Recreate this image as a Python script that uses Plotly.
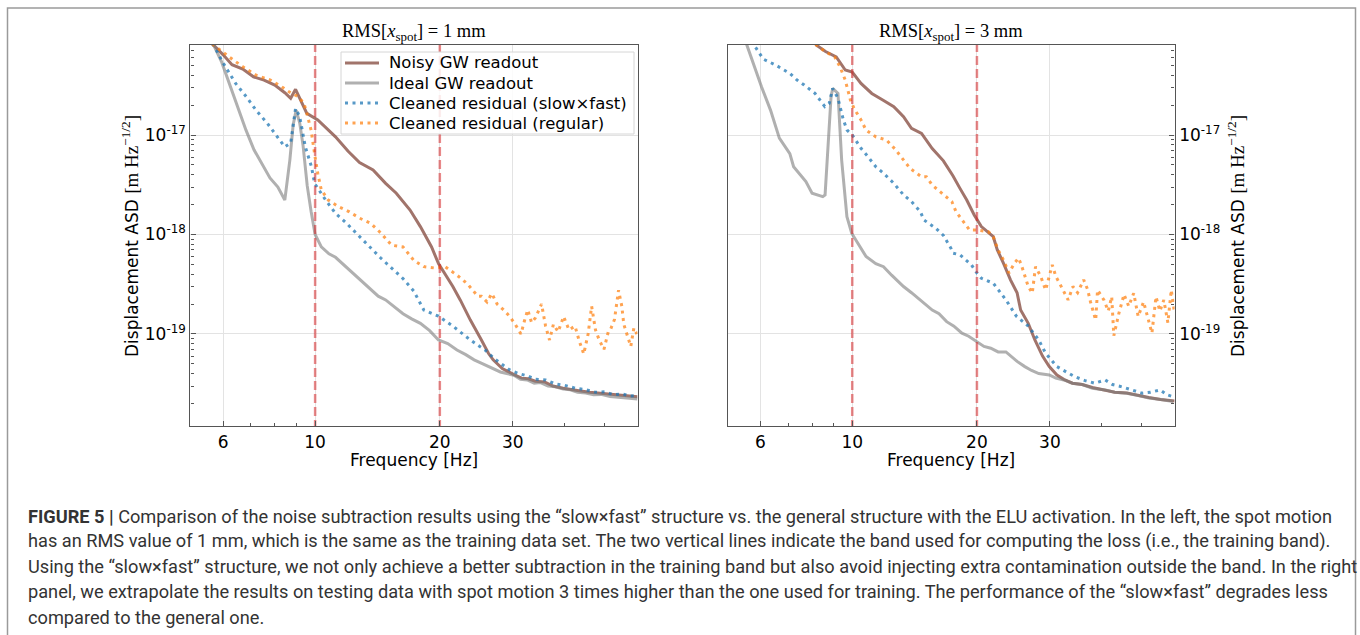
import plotly.graph_objects as go

# ---------------- data ----------------
# Left panel: RMS[x_spot] = 1 mm
f_noisy_1 = [5.3, 5.69, 6.0, 6.3, 6.69, 7.1, 7.53, 7.99, 8.45, 8.73, 8.97, 9.18, 9.55, 10.15, 10.76, 11.2, 12.0, 12.8, 13.8, 14.8, 15.7, 16.95, 17.95, 19.1, 19.85, 21.5, 22.4, 23.7, 25.2, 26.2, 26.9, 28.3, 30.2, 31.5, 32.7, 34.0, 35.8, 37.5, 39.7, 41.5, 43.7, 46.0, 48.5, 51.0, 53.6, 56.5, 60.0]
asd_noisy_1 = [1.0e-16, 8.0e-17, 6.4e-17, 5.1e-17, 4.6e-17, 3.85e-17, 3.57e-17, 3.18e-17, 2.66e-17, 2.34e-17, 2.88e-17, 2.34e-17, 1.65e-17, 1.42e-17, 1.12e-17, 9.6e-18, 6.9e-18, 5.3e-18, 4.45e-18, 3.27e-18, 2.6e-18, 1.76e-18, 1.2e-18, 7.5e-19, 5.1e-19, 3.0e-19, 2.2e-19, 1.38e-19, 8.7e-20, 6.4e-20, 5.5e-20, 4.5e-20, 3.9e-20, 3.6e-20, 3.55e-20, 3.35e-20, 3.3e-20, 3.0e-20, 2.85e-20, 2.75e-20, 2.67e-20, 2.6e-20, 2.54e-20, 2.5e-20, 2.44e-20, 2.4e-20, 2.34e-20]

f_ideal_1 = [5.3, 5.69, 5.95, 6.23, 6.51, 6.81, 7.12, 7.45, 7.78, 8.13, 8.45, 8.69, 8.85, 9.0, 9.18, 9.35, 9.57, 9.78, 10.0, 10.35, 10.8, 11.2, 11.7, 12.1, 12.6, 13.1, 13.6, 14.2, 14.8, 15.5, 16.3, 17.1, 17.95, 18.9, 19.85, 20.9, 22.0, 23.1, 24.2, 25.4, 26.7, 28.0, 29.0, 30.2, 31.3, 32.5, 33.8, 35.0, 36.5, 38.0, 39.7, 41.3, 43.0, 45.0, 47.0, 49.0, 51.5, 54.0, 57.0, 60.0]
asd_ideal_1 = [1.3e-16, 8.0e-17, 5.4e-17, 3.2e-17, 1.87e-17, 1.12e-17, 7.1e-18, 5.0e-18, 3.7e-18, 3.0e-18, 2.22e-18, 5.6e-18, 1.26e-17, 1.78e-17, 1.32e-17, 7.9e-18, 3.1e-18, 1.7e-18, 1.0e-18, 7.5e-19, 6.4e-19, 5.9e-19, 5.0e-19, 4.4e-19, 3.8e-19, 3.24e-19, 2.85e-19, 2.4e-19, 2.2e-19, 1.9e-19, 1.6e-19, 1.42e-19, 1.28e-19, 1.08e-19, 8.7e-20, 8.0e-20, 6.9e-20, 6.2e-20, 5.5e-20, 5.0e-20, 4.5e-20, 4.15e-20, 4.0e-20, 3.85e-20, 3.5e-20, 3.45e-20, 3.2e-20, 3.25e-20, 3.0e-20, 2.95e-20, 2.8e-20, 2.75e-20, 2.6e-20, 2.55e-20, 2.45e-20, 2.47e-20, 2.35e-20, 2.3e-20, 2.28e-20, 2.22e-20]

f_sf_1 = [5.3, 5.69, 6.0, 6.43, 6.82, 7.2, 7.67, 8.13, 8.45, 8.73, 8.97, 9.18, 9.47, 9.8, 9.97, 10.6, 11.2, 11.9, 12.8, 13.6, 14.4, 15.3, 16.3, 17.3, 18.3, 19.85, 21.5, 23.7, 25.7, 27.3, 29.5, 31.0, 32.5, 34.0, 36.0, 38.0, 40.0, 42.5, 45.0, 47.5, 50.0, 52.5, 55.0, 57.5, 60.0]
asd_sf_1 = [1.3e-16, 8.0e-17, 5.3e-17, 3.3e-17, 2.43e-17, 1.78e-17, 1.31e-17, 9.6e-18, 7.6e-18, 8.3e-18, 1.85e-17, 1.53e-17, 7.6e-18, 4.8e-18, 3.27e-18, 2.22e-18, 1.63e-18, 1.3e-18, 9.5e-19, 7.5e-19, 5.8e-19, 4.6e-19, 3.6e-19, 2.7e-19, 1.74e-19, 1.51e-19, 1.2e-19, 8.7e-20, 6.9e-20, 5.5e-20, 4.35e-20, 4.0e-20, 3.8e-20, 3.5e-20, 3.45e-20, 3.15e-20, 3.05e-20, 2.85e-20, 2.75e-20, 2.6e-20, 2.62e-20, 2.45e-20, 2.5e-20, 2.38e-20, 2.4e-20]

f_reg_1 = [5.3, 5.69, 6.2, 6.69, 7.2, 7.8, 8.3, 8.65, 9.1, 9.4, 9.55, 9.78, 9.97, 10.15, 10.35, 10.76, 11.4, 12.1, 12.8, 13.6, 14.4, 15.3, 16.3, 17.3, 18.3, 19.5, 20.6, 22.0, 23.3, 24.0, 24.7, 25.2, 26.0, 26.7, 27.5, 28.5, 29.5, 30.4, 31.4, 32.0, 32.6, 33.3, 34.0, 35.2, 36.0, 36.8, 37.6, 38.6, 39.8, 41.0, 42.4, 43.4, 44.5, 45.6, 46.5, 47.5, 48.5, 49.8, 51.0, 51.6, 52.8, 54.0, 55.0, 55.6, 56.7, 57.8, 58.8, 59.8]
asd_reg_1 = [1.3e-16, 8.0e-17, 6.1e-17, 4.86e-17, 4.0e-17, 3.57e-17, 3.06e-17, 2.72e-17, 2.43e-17, 2.08e-17, 1.65e-17, 1.12e-17, 6.5e-18, 4.1e-18, 2.8e-18, 2.22e-18, 1.9e-18, 1.69e-18, 1.46e-18, 1.3e-18, 1.04e-18, 7.8e-19, 7.5e-19, 5.5e-19, 4.75e-19, 4.6e-19, 4.75e-19, 3.9e-19, 3.2e-19, 2.8e-19, 2.4e-19, 2.4e-19, 2.1e-19, 2.55e-19, 2.0e-19, 1.75e-19, 1.5e-19, 1.25e-19, 1.0e-19, 1.35e-19, 1.75e-19, 1.3e-19, 1.45e-19, 2.0e-19, 1.2e-19, 8.7e-20, 1.25e-19, 1.05e-19, 1.5e-19, 1.1e-19, 1.2e-19, 8.5e-20, 6.3e-20, 1.0e-19, 1.9e-19, 1.1e-19, 8.7e-20, 7.0e-20, 1.05e-19, 1.1e-19, 1.4e-19, 2.75e-19, 1.9e-19, 1.25e-19, 9.5e-20, 7.5e-20, 1.15e-19, 1.0e-19]

# Right panel: RMS[x_spot] = 3 mm
f_noisy_3 = [7.8, 8.2, 8.62, 9.15, 9.62, 10.0, 10.5, 11.15, 11.85, 12.6, 13.3, 13.9, 14.7, 15.6, 16.6, 17.5, 18.2, 18.9, 19.7, 20.5, 21.9, 22.4, 23.2, 24.1, 25.0, 25.5, 26.6, 27.6, 28.8, 29.9, 31.2, 32.4, 34.0, 35.9, 38.0, 40.8, 43.0, 46.0, 49.0, 52.0, 55.5, 60.0]
asd_noisy_3 = [1.1e-16, 8.0e-17, 6.9e-17, 6.1e-17, 4.5e-17, 4.3e-17, 3.3e-17, 2.62e-17, 2.25e-17, 1.93e-17, 1.53e-17, 1.17e-17, 1.04e-17, 7.3e-18, 5.5e-18, 3.9e-18, 2.91e-18, 2.22e-18, 1.57e-18, 1.2e-18, 9.5e-19, 7.0e-19, 5.1e-19, 3.5e-19, 2.6e-19, 1.74e-19, 1.28e-19, 8.7e-20, 6.0e-20, 4.7e-20, 3.87e-20, 3.5e-20, 3.2e-20, 3.1e-20, 2.9e-20, 2.75e-20, 2.6e-20, 2.55e-20, 2.4e-20, 2.3e-20, 2.2e-20, 2.12e-20]

f_ideal_3 = [5.3, 5.57, 6.04, 6.35, 6.67, 7.07, 7.22, 7.73, 8.0, 8.49, 8.6, 8.89, 8.97, 9.24, 9.43, 9.71, 9.97, 10.3, 10.8, 11.4, 11.9, 12.45, 12.8, 13.3, 13.9, 14.5, 15.6, 16.2, 16.9, 17.6, 18.4, 19.1, 19.9, 20.8, 21.6, 22.5, 23.5, 24.0, 25.0, 26.1, 27.1, 28.2, 29.9, 31.0, 32.4, 34.0, 35.9, 38.0, 40.8, 43.0, 46.0, 49.0, 52.0, 55.5, 59.5]
asd_ideal_3 = [1.5e-16, 8.0e-17, 3.06e-17, 1.78e-17, 9.3e-18, 6.5e-18, 4.8e-18, 3.4e-18, 2.6e-18, 2.4e-18, 2.5e-18, 2.43e-17, 2.94e-17, 2.62e-17, 5.6e-18, 1.51e-18, 1.03e-18, 8.2e-19, 6.0e-19, 5.1e-19, 4.75e-19, 3.9e-19, 3.5e-19, 3.0e-19, 2.6e-19, 2.25e-19, 1.74e-19, 1.6e-19, 1.33e-19, 1.2e-19, 1.02e-19, 9.5e-20, 8.4e-20, 7.5e-20, 7.2e-20, 6.6e-20, 6.6e-20, 6.1e-20, 5.3e-20, 4.7e-20, 4.3e-20, 4.0e-20, 3.87e-20, 3.6e-20, 3.45e-20, 3.2e-20, 3.1e-20, 2.85e-20, 2.74e-20, 2.6e-20, 2.54e-20, 2.4e-20, 2.27e-20, 2.2e-20, 2.1e-20]

f_sf_3 = [5.5, 5.8, 6.1, 6.53, 7.07, 7.36, 7.66, 8.13, 8.59, 8.8, 8.97, 9.24, 9.52, 9.72, 10.0, 10.5, 10.9, 11.4, 11.9, 12.6, 13.3, 13.9, 14.6, 14.9, 15.9, 16.6, 17.3, 17.5, 18.2, 19.4, 20.0, 20.5, 21.9, 23.0, 23.5, 24.9, 26.6, 28.2, 29.3, 31.2, 33.0, 34.4, 36.5, 38.5, 40.8, 42.5, 44.4, 47.0, 50.1, 52.5, 55.4, 57.5, 59.5]
asd_sf_3 = [1.2e-16, 8.0e-17, 5.8e-17, 5.06e-17, 4.17e-17, 3.57e-17, 3.18e-17, 2.62e-17, 1.93e-17, 2.08e-17, 2.94e-17, 2.34e-17, 1.42e-17, 1.12e-17, 1.0e-17, 7.35e-18, 6.1e-18, 4.8e-18, 4.13e-18, 3.27e-18, 2.5e-18, 2.14e-18, 1.7e-18, 1.4e-18, 1.16e-18, 9.8e-19, 7.3e-19, 6.5e-19, 6.25e-19, 4.95e-19, 4.1e-19, 3.63e-19, 3.24e-19, 2.5e-19, 2.2e-19, 1.51e-19, 1.2e-19, 8.7e-20, 6.4e-20, 4.7e-20, 4.1e-20, 3.73e-20, 3.4e-20, 3.2e-20, 3.45e-20, 3.1e-20, 2.97e-20, 2.75e-20, 2.54e-20, 2.6e-20, 2.74e-20, 2.45e-20, 2.34e-20]

f_reg_3 = [7.8, 8.2, 8.62, 9.07, 9.34, 9.62, 9.9, 10.1, 10.5, 10.8, 11.4, 12.1, 12.7, 13.3, 13.8, 14.7, 15.1, 15.6, 16.8, 17.4, 17.8, 18.5, 19.2, 20.0, 21.3, 21.9, 22.5, 23.2, 23.9, 24.6, 25.2, 25.6, 26.1, 26.6, 27.2, 27.7, 28.5, 29.3, 30.4, 31.0, 31.7, 32.3, 33.2, 34.1, 35.0, 36.2, 37.0, 37.6, 38.7, 39.1, 40.5, 41.5, 42.3, 42.8, 44.0, 45.3, 46.5, 47.8, 49.0, 50.5, 51.7, 52.9, 54.1, 55.3, 56.5, 57.8, 58.9, 60.0]
asd_reg_3 = [1.1e-16, 8.0e-17, 6.87e-17, 6.1e-17, 4.86e-17, 3.57e-17, 2.25e-17, 1.85e-17, 1.42e-17, 1.12e-17, 9.6e-18, 8.9e-18, 7.2e-18, 5.6e-18, 4.6e-18, 3.81e-18, 3.81e-18, 3.14e-18, 2.4e-18, 2.14e-18, 1.7e-18, 1.35e-18, 1.11e-18, 1.11e-18, 1.07e-18, 9.5e-19, 7.0e-19, 5.5e-19, 4.1e-19, 5.1e-19, 5.8e-19, 4.95e-19, 3.8e-19, 3.0e-19, 2.57e-19, 4.75e-19, 3.8e-19, 2.77e-19, 4.95e-19, 3.8e-19, 3.2e-19, 2.77e-19, 2.2e-19, 3.0e-19, 2.6e-19, 3.5e-19, 2.8e-19, 2.1e-19, 1.38e-19, 2.77e-19, 2.2e-19, 1.7e-19, 2.37e-19, 9.6e-20, 1.6e-19, 2.5e-19, 1.9e-19, 2.57e-19, 1.5e-19, 2.1e-19, 1.45e-19, 1.02e-19, 2.37e-19, 1.7e-19, 2.2e-19, 1.3e-19, 2.77e-19, 1.6e-19]

band_edges = [10, 20]
series_names = ["Noisy GW readout", "Ideal GW readout",
                "Cleaned residual (slow\u00d7fast)", "Cleaned residual (regular)"]
panel_titles = ["RMS[<i>x</i><sub>spot</sub>] = 1 mm", "RMS[<i>x</i><sub>spot</sub>] = 3 mm"]
x_tickvals = [6, 10, 20, 30]
x_ticktext = ["6", "10", "20", "30"]
x_minor = [7, 8, 9, 40, 50]
y_tickvals = [1e-19, 1e-18, 1e-17]
y_ticktext = ["10<sup>-19</sup>", "10<sup>-18</sup>", "10<sup>-17</sup>"]
caption_lines = [
    "<b>FIGURE 5 |</b> Comparison of the noise subtraction results using the \u201cslow\u00d7fast\u201d structure vs. the general structure with the ELU activation. In the left, the spot motion",
    "has an RMS value of 1 mm, which is the same as the training data set. The two vertical lines indicate the band used for computing the loss (i.e., the training band).",
    "Using the \u201cslow\u00d7fast\u201d structure, we not only achieve a better subtraction in the training band but also avoid injecting extra contamination outside the band. In the right",
    "panel, we extrapolate the results on testing data with spot motion 3 times higher than the one used for training. The performance of the \u201cslow\u00d7fast\u201d degrades less",
    "compared to the general one.",
]

# ---------------- styling ----------------
W, H = 1360, 635
C_NOISY = "rgba(140,86,75,0.82)"
C_IDEAL = "rgba(127,127,127,0.62)"
C_SF = "rgba(31,119,180,0.75)"
C_REG = "rgba(255,127,14,0.72)"
C_BAND = "rgba(214,39,40,0.55)"
SANS = "DejaVu Sans"
SERIF = "Liberation Serif"

def px_x(p):
    return p / W

def px_y(p):
    return 1 - p / H

panels = [
    dict(xa="x", ya="y", data=[(f_noisy_1, asd_noisy_1), (f_ideal_1, asd_ideal_1), (f_sf_1, asd_sf_1), (f_reg_1, asd_reg_1)],
         left=190.4, right=637.5),
    dict(xa="x2", ya="y2", data=[(f_noisy_3, asd_noisy_3), (f_ideal_3, asd_ideal_3), (f_sf_3, asd_sf_3), (f_reg_3, asd_reg_3)],
         left=727.5, right=1174.6),
]
styles = [
    dict(color=C_NOISY, width=3),
    dict(color=C_IDEAL, width=3),
    dict(color=C_SF, width=3, dash="3px,4.5px"),
    dict(color=C_REG, width=3, dash="3px,4.5px"),
]

fig = go.Figure()
for pi, p in enumerate(panels):
    for si, (fx, fy) in enumerate(p["data"]):
        fig.add_trace(go.Scatter(x=fx, y=fy, mode="lines", name=series_names[si],
                                 line=styles[si], xaxis=p["xa"], yaxis=p["ya"],
                                 showlegend=False))
    for edge in band_edges:
        fig.add_trace(go.Scatter(x=[edge, edge], y=[1e-21, 1e-15], mode="lines",
                                 line=dict(color=C_BAND, width=2.5, dash="9px,4px"),
                                 xaxis=p["xa"], yaxis=p["ya"], showlegend=False, hoverinfo="skip"))

top_px, bot_px = 45, 426
y_minor = [m * 10.0 ** e for e in (-20, -19, -18, -17) for m in range(2, 10)]

axis_common = dict(
    type="log", showline=True, linecolor="#555", linewidth=1.4, mirror=True,
    ticks="inside", ticklen=5, tickwidth=1, tickcolor="#555",
    showgrid=True, gridcolor="#e3e3e3", gridwidth=1, zeroline=False,
    tickfont=dict(family=SANS, size=17, color="black"),
)

layout = dict(
    width=W, height=H, margin=dict(l=0, r=0, t=0, b=0),
    paper_bgcolor="white", plot_bgcolor="white", showlegend=False,
)
for i, p in enumerate(panels):
    xs = "xaxis" if i == 0 else "xaxis2"
    ys = "yaxis" if i == 0 else "yaxis2"
    layout[xs] = dict(axis_common, domain=[px_x(p["left"]), px_x(p["right"])],
                      range=[0.69897, 1.77815], tickvals=x_tickvals, ticktext=x_ticktext,
                      anchor=p["ya"],
                      minor=dict(tickvals=x_minor, ticks="inside", ticklen=3, tickcolor="#555", showgrid=False))
    layout[ys] = dict(axis_common, domain=[px_y(bot_px), px_y(top_px)],
                      range=[-19.925, -16.095], tickvals=y_tickvals, ticktext=y_ticktext,
                      anchor=p["xa"], side="left" if i == 0 else "right",
                      minor=dict(tickvals=y_minor, ticks="inside", ticklen=3, tickcolor="#555", showgrid=False))
fig.update_layout(**layout)

ann = []
ylabel = ("Displacement ASD <span style='font-family:Liberation Serif;font-size:19px'>[m Hz<sup>\u22121/2</sup>]</span>")
for i, p in enumerate(panels):
    cx = (p["left"] + p["right"]) / 2
    ann.append(dict(text=panel_titles[i], x=px_x(cx), y=px_y(32), xref="paper", yref="paper",
                    showarrow=False, xanchor="center", yanchor="middle",
                    font=dict(family=SERIF, size=18.5, color="black")))
    ann.append(dict(text="Frequency [Hz]", x=px_x(cx), y=px_y(460), xref="paper", yref="paper",
                    showarrow=False, xanchor="center", yanchor="middle",
                    font=dict(family=SANS, size=17, color="black")))
ann.append(dict(text=ylabel, x=px_x(130), y=px_y(236), xref="paper", yref="paper", textangle=-90,
                showarrow=False, xanchor="center", yanchor="middle",
                font=dict(family=SANS, size=17, color="black")))
ann.append(dict(text=ylabel, x=px_x(1236), y=px_y(236), xref="paper", yref="paper", textangle=-90,
                showarrow=False, xanchor="center", yanchor="middle",
                font=dict(family=SANS, size=17, color="black")))

# legend box (upper right of the left panel), drawn with the same line styles as the traces
leg_left, leg_right, leg_top, leg_bot = 341, 634, 52, 134
leg_rows = [63, 83, 103, 123]
fig.add_shape(type="rect", xref="paper", yref="paper",
              x0=px_x(leg_left), x1=px_x(leg_right), y0=px_y(leg_bot), y1=px_y(leg_top),
              line=dict(color="#d6d6d6", width=1), fillcolor="rgba(255,255,255,0.85)", layer="above")
for si, name in enumerate(series_names):
    yy = leg_rows[si]
    fig.add_shape(type="line", xref="paper", yref="paper",
                  x0=px_x(345), x1=px_x(379), y0=px_y(yy), y1=px_y(yy),
                  line=styles[si], layer="above")
    ann.append(dict(text=name, x=px_x(387), y=px_y(yy), xref="paper", yref="paper",
                    showarrow=False, xanchor="left", yanchor="middle",
                    font=dict(family=SANS, size=16.5, color="black")))

cap_y = [516, 541, 566, 591, 617]
for line, yy in zip(caption_lines, cap_y):
    ann.append(dict(text=line, x=px_x(26), y=px_y(yy), xref="paper", yref="paper",
                    showarrow=False, xanchor="left", yanchor="middle", align="left",
                    font=dict(family="Roboto", size=18.2, color="#333333")))
fig.update_layout(annotations=ann)

fig.add_shape(type="rect", xref="paper", yref="paper",
              x0=px_x(7.5), x1=px_x(1355.5), y0=-0.05, y1=px_y(8),
              line=dict(color="#9a9a9a", width=1.5), fillcolor="rgba(0,0,0,0)", layer="below")

fig.write_html("out.html", config={"displayModeBar": False},
               post_script="document.body.style.margin='0';document.body.style.padding='0';")
